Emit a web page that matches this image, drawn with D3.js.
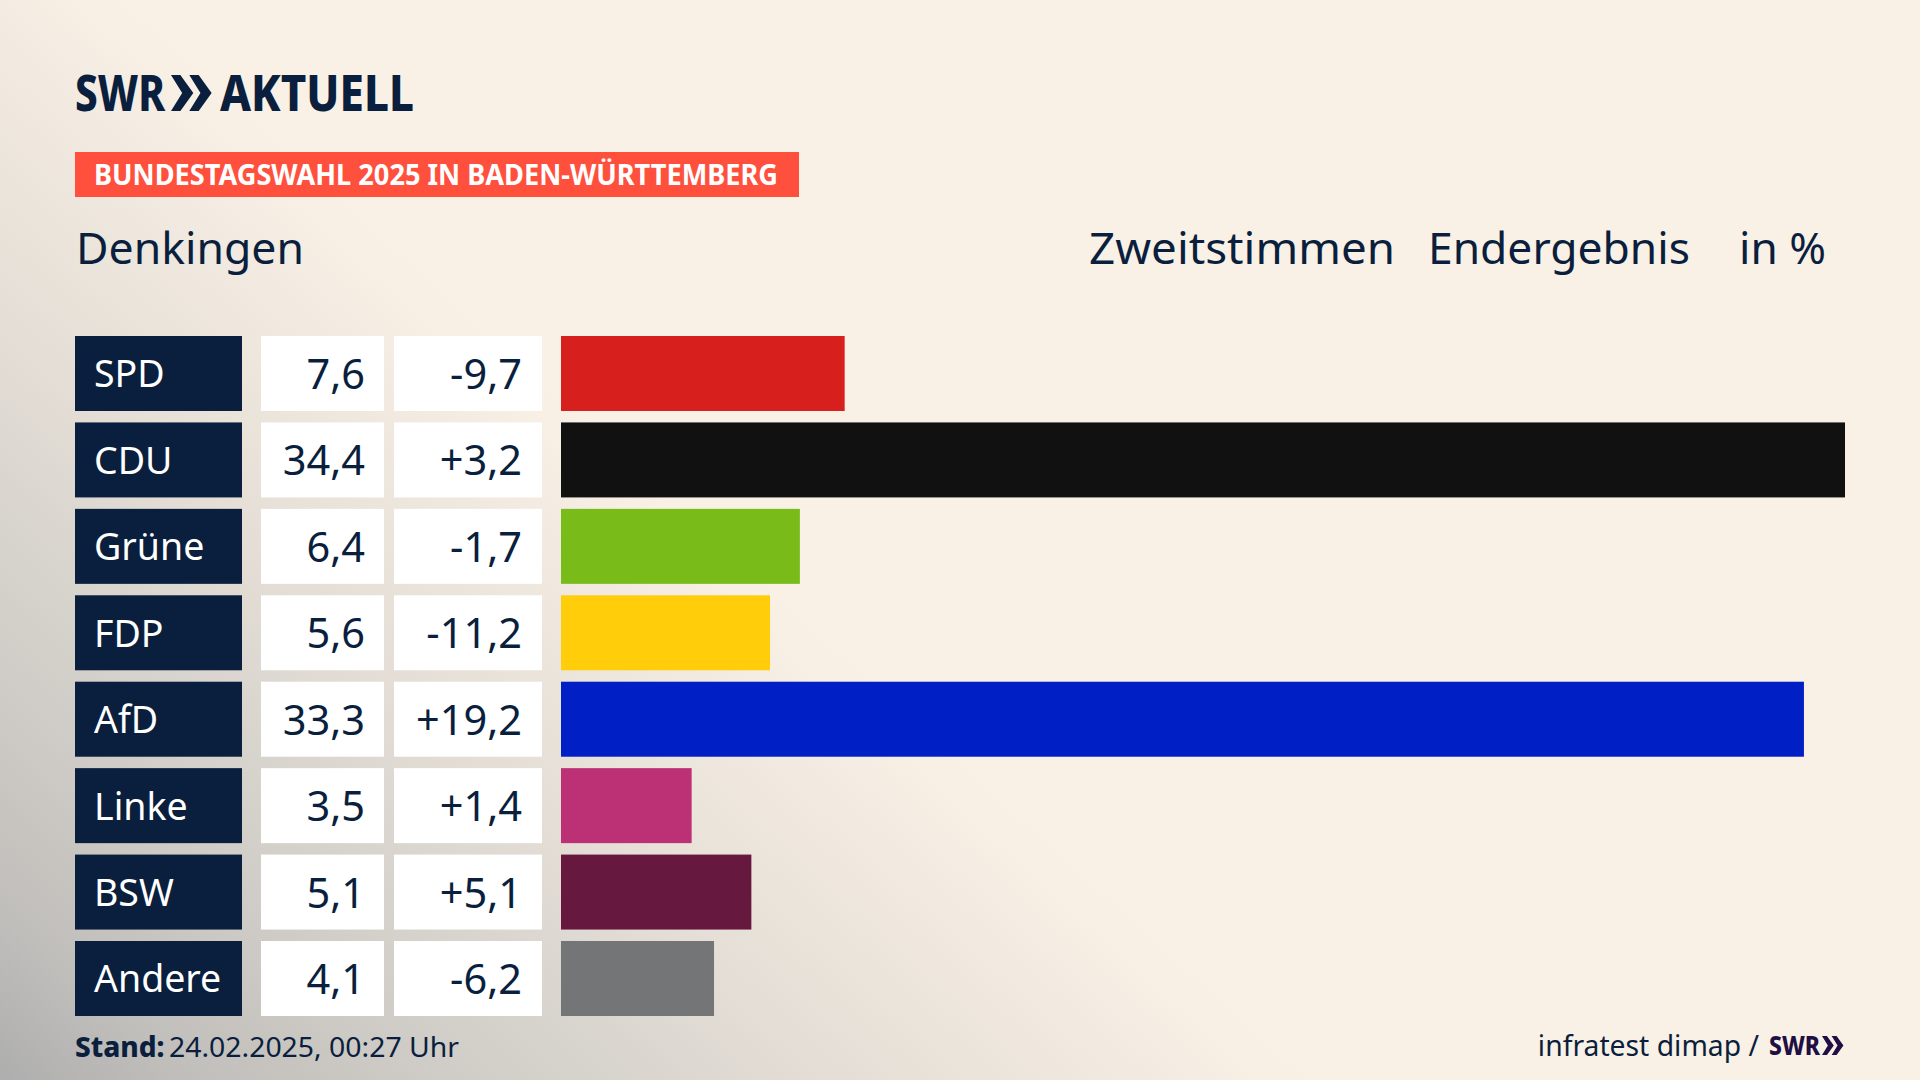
<!DOCTYPE html>
<html><head><meta charset="utf-8">
<script src="https://cdn.jsdelivr.net/npm/d3@7"></script>
<style>
html,body{margin:0;padding:0;width:1920px;height:1080px;overflow:hidden;background:#faf1e6}
svg{display:block;font-family:"Noto Sans",sans-serif}
</style></head><body><svg id="c" width="1920" height="1080"></svg>
<script>
const parties=["SPD","CDU","Grüne","FDP","AfD","Linke","BSW","Andere"];
const shares=[7.6,34.4,6.4,5.6,33.3,3.5,5.1,4.1];
const changes=["-9,7","+3,2","-1,7","-11,2","+19,2","+1,4","+5,1","-6,2"];
const colors=["#d71f1d","#111111","#79bc1a","#ffcd09","#0020c6","#bc3175","#67183e","#747577"];
const navy="#0a1f3d";
const fmt=v=>String(v.toFixed(1)).replace(".",",");

const svg=d3.select("#c");
const defs=svg.append("defs");
const a=1320,b=1200,n=1/(a*a)+1/(b*b);
const g1=defs.append("linearGradient").attr("id","bg").attr("gradientUnits","userSpaceOnUse")
 .attr("x1",0).attr("y1",1080).attr("x2",(1/a)/n).attr("y2",1080-(1/b)/n);
[[0,"#aeaeae"],[.14,"#c0bebb"],[.3,"#cdc9c4"],[.46,"#d7d3cd"],[.62,"#e3ddd5"],[.75,"#ebe4db"],[.9,"#f4ece2"],[1,"#faf1e6"]]
 .forEach(([o,c])=>g1.append("stop").attr("offset",o).attr("stop-color",c));
svg.append("rect").attr("width",1920).attr("height",1080).attr("fill","url(#bg)");

const y=d3.scaleBand().domain(parties).range([336,1016]).paddingInner(11.43/86.43).paddingOuter(0);
const x=d3.scaleLinear().domain([0,34.4]).range([561,1845]);

function chevrons(g,px,py,h,col){
  const w=h*.62;
  [0,1].forEach(i=>{
    const ox=px+i*w*.82;
    g.append("path").attr("fill",col)
     .attr("d",`M${ox},${py} L${ox+w*.42},${py} L${ox+w},${py+h/2} L${ox+w*.42},${py+h} L${ox},${py+h} L${ox+w*.5},${py+h/2} Z`);
  });
}
function fit(g,t,px,base,size,len,weight,col){
  return g.append("text").attr("x",px).attr("y",base).attr("font-size",size)
   .attr("font-weight",weight).attr("fill",col).attr("textLength",len)
   .attr("lengthAdjust","spacingAndGlyphs").text(t);
}
const head=svg.append("g");
fit(head,"SWR",75,111,50,90,800,navy);
chevrons(head,171,75,36,navy);
fit(head,"AKTUELL",220,111,50,194,800,navy);

head.append("rect").attr("x",75).attr("y",152).attr("width",724).attr("height",45).attr("fill","#ff4f3d");
fit(head,"BUNDESTAGSWAHL 2025 IN BADEN-WÜRTTEMBERG",94,185,28,684,700,"#fff");

const titleSize=44;
fit(head,"Denkingen",76,264,titleSize,228,400,navy);
fit(head,"Zweitstimmen",1089,264,titleSize,306,400,navy);
fit(head,"Endergebnis",1428,264,titleSize,262,400,navy);
fit(head,"in %",1739,264,titleSize,87,400,navy);

const rows=svg.selectAll("g.row").data(parties).join("g").attr("class","row")
 .attr("transform",d=>`translate(0,${y(d)})`);
const h=y.bandwidth();
rows.append("rect").attr("x",75).attr("width",167).attr("height",h).attr("fill",navy);
rows.append("rect").attr("x",261).attr("width",123).attr("height",h).attr("fill","#fff");
rows.append("rect").attr("x",394).attr("width",148).attr("height",h).attr("fill","#fff");
rows.append("rect").attr("x",x(0)).attr("height",h)
 .attr("width",(d,i)=>x(shares[i])-x(0)).attr("fill",(d,i)=>colors[i]);
const base=h/2+14;
rows.append("text").attr("x",94).attr("y",base).attr("font-size",37.5).attr("fill","#fff").text(d=>d);
rows.append("text").attr("x",365).attr("y",base+1.5).attr("text-anchor","end").attr("font-size",41.5).attr("fill",navy).text((d,i)=>fmt(shares[i]));
rows.append("text").attr("x",522).attr("y",base+1.5).attr("text-anchor","end").attr("font-size",41.5).attr("fill",navy).text((d,i)=>changes[i]);

const foot=svg.append("g");
const s=foot.append("text").attr("x",75).attr("y",1057).attr("font-size",28).attr("fill",navy);
s.append("tspan").attr("font-weight",800).text("Stand:");
s.append("tspan").attr("x",169).attr("textLength",290).attr("lengthAdjust","spacingAndGlyphs").text("24.02.2025, 00:27 Uhr");
foot.append("text").attr("x",1759).attr("y",1056).attr("text-anchor","end").attr("font-size",28.3).attr("fill",navy).text("infratest dimap /");
fit(foot,"SWR",1769,1055,27,51,800,"#1f0f45");
chevrons(foot,1822,1036,19,"#1f0f45");
</script></body></html>
